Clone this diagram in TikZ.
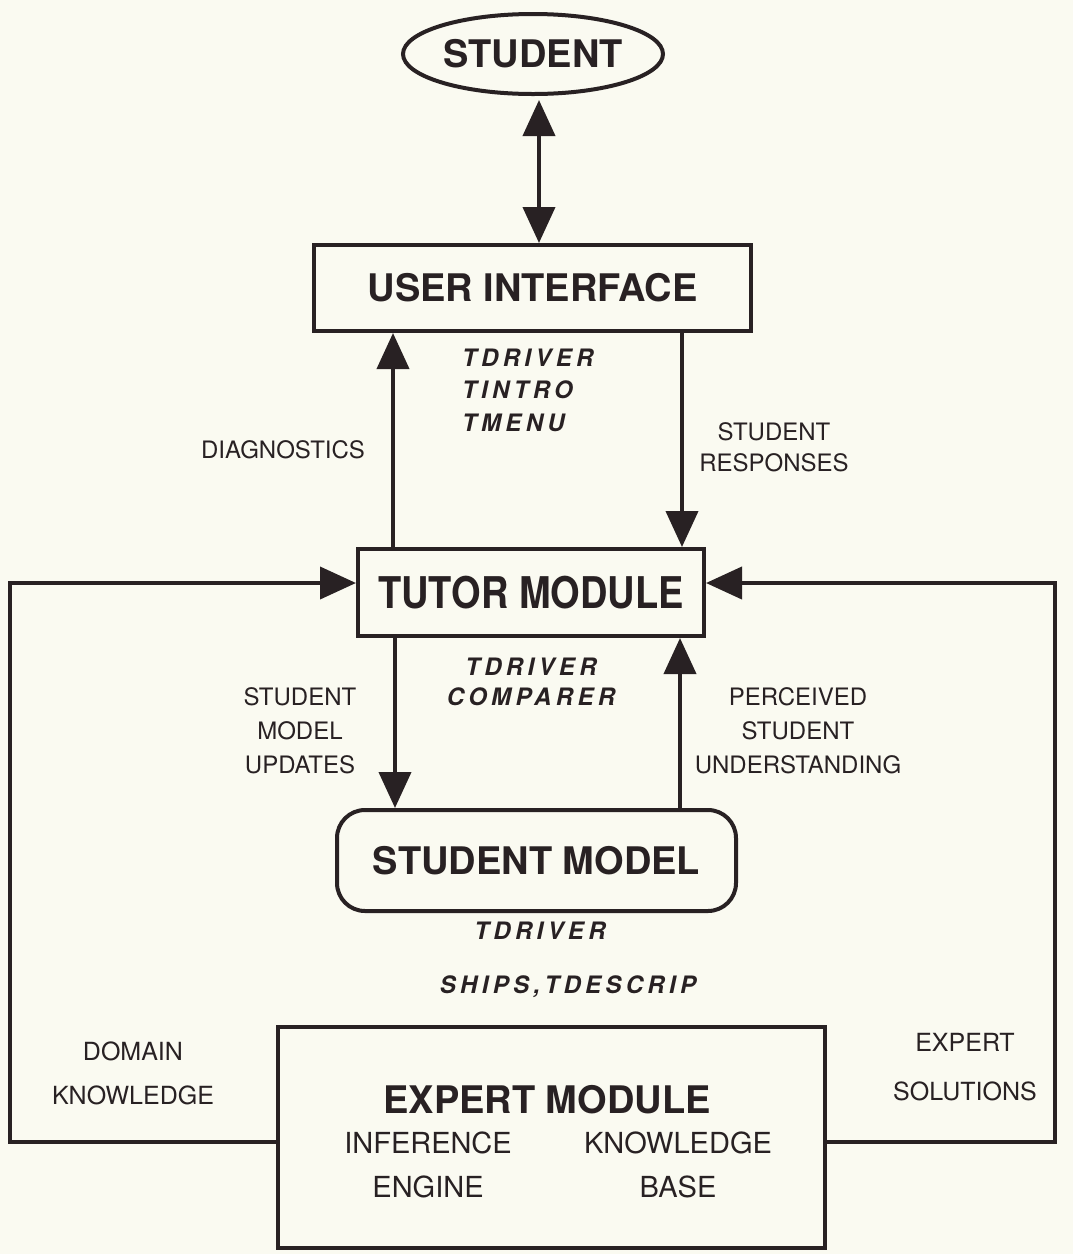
\documentclass[tikz,border=0pt]{standalone}
\usepackage{fontspec}
\setmainfont{TeX Gyre Heros}
\newfontfamily\tagfont[LetterSpace=18]{TeX Gyre Heros}
\usetikzlibrary{arrows.meta,shapes.geometric}
\definecolor{paper}{RGB}{250,250,241}
\definecolor{ink}{RGB}{40,33,35}
\tikzset{
  frame/.style={draw=ink, line width=4pt, inner sep=0pt, text=ink,
    font=\bfseries\fontsize{38}{40}\selectfont},
  title/.style={text=ink, inner sep=0pt, font=\bfseries\fontsize{38}{40}\selectfont},
  lbl/.style={text=ink, inner sep=0pt, align=center},
  tag/.style={text=ink, inner sep=0pt, align=center},
  link/.style={draw=ink, line width=4pt, line join=miter,
    -{Triangle[length=36pt,width=32pt]}},
  biglink/.style={draw=ink, line width=4pt,
    {Triangle[length=36pt,width=32pt]}-{Triangle[length=36pt,width=32pt]}},
}
\newcommand{\lblfont}[1]{\fontsize{24}{#1}\selectfont}
\newcommand{\tagsize}[1]{\tagfont\bfseries\itshape\fontsize{24}{#1}\selectfont}
\begin{document}
\begin{tikzpicture}[x=1pt,y=-1pt]
  \fill[paper] (0,0) rectangle (1073,1254);
  \useasboundingbox (0,0) rectangle (1073,1254);

  % main blocks
  \node[frame, ellipse, minimum width=260pt, minimum height=80pt] (student) at (533,54) {STUDENT};
  \node[frame, rectangle, minimum width=437pt, minimum height=86pt] (ui) at (532.5,288) {USER INTERFACE};
  \node[frame, rectangle, minimum width=346pt, minimum height=87pt] (tutor) at (531,592.5)
    {\scalebox{1}[1.15]{TUTOR MODULE}};
  \node[frame, rectangle, rounded corners=28pt, minimum width=399pt, minimum height=101pt] (sm) at (536.5,860.5)
    {STUDENT MODEL};
  \node[frame, rectangle, minimum width=547pt, minimum height=221pt] (expert) at (551.5,1137.5) {};

  % contents of the expert module
  \node[title] (expertT) at (547,1100) {EXPERT MODULE};
  \node[lbl, font=\fontsize{29}{44}\selectfont] (engine) at (428,1165) {INFERENCE\\ENGINE};
  \node[lbl, font=\fontsize{29}{44}\selectfont] (kbase) at (678,1165) {KNOWLEDGE\\BASE};

  % program names
  \node[tag, align=left, anchor=west, font=\tagsize{32.5}] (uiprog) at (462,390) {TDRIVER\\TINTRO\\TMENU};
  \node[tag, font=\tagsize{30}] (tutorprog) at (531,682) {TDRIVER\\COMPARER};
  \node[tag, font=\tagsize{30}] (smprog) at (540,931) {TDRIVER};
  \node[tag, anchor=base, font=\tagsize{30}] (expprog) at (568,993) {SHIPS,TDESCRIP};

  % connector labels
  \node[lbl, font=\lblfont{31}] (diag) at (283,450) {DIAGNOSTICS};
  \node[lbl, font=\lblfont{31}] (resp) at (774,447.5) {STUDENT\\RESPONSES};
  \node[lbl, font=\lblfont{34}] (upd) at (300,731) {STUDENT\\MODEL\\UPDATES};
  \node[lbl, font=\lblfont{34}] (perc) at (798,731) {PERCEIVED\\STUDENT\\UNDERSTANDING};
  \node[lbl, font=\fontsize{25}{44}\selectfont] (domain) at (133,1073) {DOMAIN\\KNOWLEDGE};
  \node[lbl, font=\fontsize{25}{49}\selectfont] (sol) at (965,1067.5) {EXPERT\\SOLUTIONS};

  % connector columns and loop corners
  \coordinate (xa) at (539,0);
  \coordinate (xl1) at (393,0);
  \coordinate (xr1) at (682,0);
  \coordinate (xl2) at (395,0);
  \coordinate (xr2) at (680,0);
  \coordinate (lbend) at (10,583);
  \coordinate (rbend) at (1055,583);

  % connectors
  \draw[biglink, shorten <=4pt] (student.south -| xa) -- (ui.north -| xa);
  \draw[link] (tutor.north -| xl1) -- (ui.south -| xl1);
  \draw[link] (ui.south -| xr1) -- (tutor.north -| xr1);
  \draw[link] (tutor.south -| xl2) -- (sm.north -| xl2);
  \draw[link] (sm.north -| xr2) -- (tutor.south -| xr2);
  \draw[link] ([yshift=-4.5pt]expert.west) -| (lbend) -- (tutor.west |- lbend);
  \draw[link] ([yshift=-4.5pt]expert.east) -| (rbend) -- (tutor.east |- rbend);
\end{tikzpicture}
\end{document}
